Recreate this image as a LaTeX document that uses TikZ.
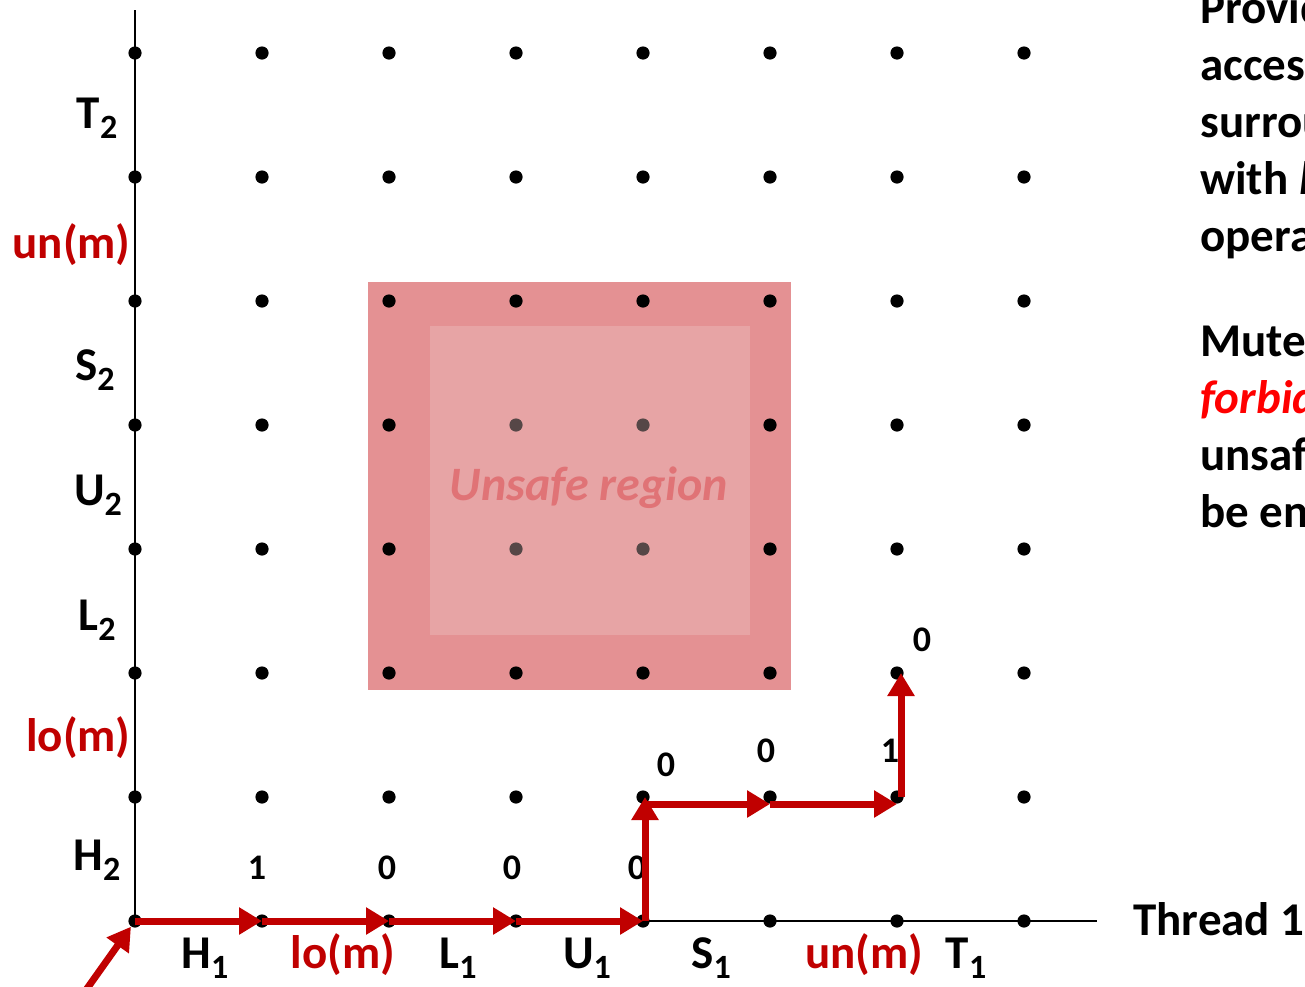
\documentclass[tikz,border=0pt]{standalone}
\usepackage{fontspec}
\setmainfont{Carlito}
\usetikzlibrary{arrows.meta}

\definecolor{mred}{HTML}{C00000}
\definecolor{fred}{HTML}{FF0000}
\definecolor{unsafeout}{HTML}{E49193}
\definecolor{unsafein}{RGB}{239,198,198}
\definecolor{unsafetxt}{HTML}{E07376}

\newcommand{\thr}[1]{\raisebox{-0.22em}{\fontsize{17}{17}\selectfont #1}}

\begin{document}
\begin{tikzpicture}[
    x=0.5pt, y=-0.5pt,
    dot/.style={circle, fill=black, inner sep=0pt, minimum size=6.6pt},
    lbl/.style={font=\fontsize{23.5}{28}\selectfont\bfseries, inner sep=0pt},
    mlbl/.style={lbl, text=mred},
    cnt/.style={font=\fontsize{18}{20}\selectfont\bfseries, inner sep=0pt},
    note/.style={font=\fontsize{23.5}{28.5}\selectfont\bfseries, align=left, inner sep=0pt},
    trail/.style={-{Triangle[length=11.5pt, width=13pt]}, line width=3.5pt, draw=mred},
  ]
  \useasboundingbox (0,0) rectangle (1305,986);

  % unsafe region, outer band
  \fill[unsafeout] (368,282) rectangle (791,690);

  % progress grid
  \foreach \i in {0,...,7}
    \foreach \j in {0,...,7}
      \node[dot] (p-\i-\j) at ({135+127*\i},{921-124*\j}) {};

  % unsafe region, inner part
  \fill[unsafein, fill opacity=0.36] (430,326) rectangle (750,635);
  \node[font=\fontsize{24}{28}\selectfont\bfseries\itshape, text=unsafetxt] (unsafe) at (589,488) {Unsafe region};

  % axes
  \coordinate (ytop) at (135,10);
  \coordinate (xend) at (1097,921);
  \draw[line width=1.2pt] (ytop) -- (p-0-0.center) -- (xend);
  \node[lbl, anchor=base west] (thread1) at (1133,935) {Thread 1};

  % thread 2 labels
  \node[lbl]  (t2)  at (97,118) {T\thr{2}};
  \node[mlbl, anchor=east] (un2) at (131,245) {un(m)};
  \node[lbl]  (s2)  at (95,370) {S\thr{2}};
  \node[lbl]  (u2)  at (98,495) {U\thr{2}};
  \node[lbl]  (l2)  at (97,620) {L\thr{2}};
  \node[mlbl, anchor=east] (lo2) at (131,738) {lo(m)};
  \node[lbl]  (h2)  at (97,860) {H\thr{2}};

  % thread 1 labels
  \node[lbl, anchor=base]  (h1)  at (205,968) {H\thr{1}};
  \node[mlbl, anchor=base] (lo1) at (343,968) {lo(m)};
  \node[lbl, anchor=base]  (l1)  at (458,968) {L\thr{1}};
  \node[lbl, anchor=base]  (u1)  at (587,968) {U\thr{1}};
  \node[lbl, anchor=base]  (s1)  at (711,968) {S\thr{1}};
  \node[mlbl, anchor=base] (un1) at (864,968) {un(m)};
  \node[lbl, anchor=base]  (t1)  at (966,968) {T\thr{1}};

  % mutex values
  \node[cnt] (c1) at (257,868) {1};
  \node[cnt] (c2) at (387,868) {0};
  \node[cnt] (c3) at (512,868) {0};
  \node[cnt] (c4) at (637,868) {0};
  \node[cnt] (c5) at (666,765) {0};
  \node[cnt] (c6) at (766,751) {0};
  \node[cnt] (c7) at (890,751) {1};
  \node[cnt] (c8) at (922,640) {0};

  % trajectory
  \coordinate (entry) at (86,990);
  \draw[trail] (entry) -- (p-0-0);
  \draw[trail] (p-0-0.center) -- (p-1-0.center);
  \draw[trail] (p-1-0.center) -- (p-2-0.center);
  \draw[trail] (p-2-0.center) -- (p-3-0.center);
  \draw[trail] (p-3-0.center) -- (p-4-0.center);
  \draw[trail] ([xshift=1pt]p-4-0.center) -- ([xshift=1pt]p-4-1.center);
  \draw[trail] ([yshift=-3.5pt]p-4-1.center) -- ([yshift=-3.5pt]p-5-1.center);
  \draw[trail] ([yshift=-3.5pt]p-5-1.center) -- ([yshift=-3.5pt]p-6-1.center);
  \draw[trail] ([xshift=2pt]p-6-1.center) -- ([xshift=2pt]p-6-2.center);

  % side notes
  \node[note, anchor=north west] (note1) at (1200,-10)
    {Provide\\access\\surrounding\\with \textit{lock}\\operations};
  \node[note, anchor=north west] (note2) at (1200,326)
    {Mutex\\\textcolor{fred}{\textit{forbidden}}\\unsafe\\be entered};
\end{tikzpicture}
\end{document}
